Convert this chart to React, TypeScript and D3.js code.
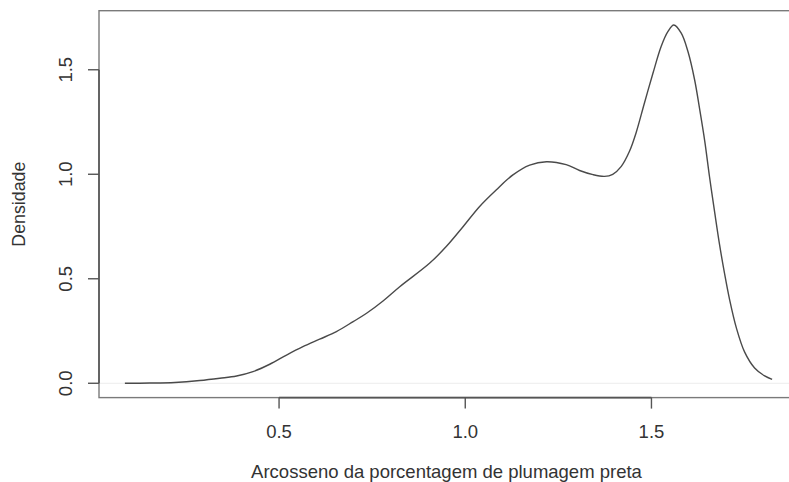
import React from "react";
import * as d3 from "d3";

const densityX = [
  0.086, 0.153, 0.22, 0.287, 0.341, 0.386, 0.43, 0.475, 0.52, 0.564, 0.609,
  0.654, 0.699, 0.735, 0.78, 0.824, 0.904, 0.949, 0.994, 1.038, 1.083, 1.128,
  1.173, 1.218, 1.271, 1.307, 1.343, 1.374, 1.396, 1.419, 1.441, 1.459, 1.481,
  1.504, 1.526, 1.544, 1.56, 1.58, 1.598, 1.616, 1.629, 1.643, 1.656, 1.67,
  1.683, 1.696, 1.71, 1.728, 1.75, 1.777, 1.804, 1.824,
];
const densityY = [
  0.0, 0.001, 0.004, 0.013, 0.024, 0.035, 0.056, 0.091, 0.135, 0.175, 0.211,
  0.247, 0.295, 0.335, 0.395, 0.462, 0.574, 0.654, 0.749, 0.845, 0.925, 0.997,
  1.044, 1.06, 1.046, 1.018, 0.998, 0.99, 1.0, 1.038, 1.11, 1.2, 1.34, 1.483,
  1.611, 1.682, 1.714, 1.675, 1.587, 1.451, 1.316, 1.16, 0.987, 0.815, 0.662,
  0.528, 0.399, 0.265, 0.15, 0.073, 0.035, 0.019,
];
const xTicks = [0.5, 1.0, 1.5];
const xTickLabels = ["0.5", "1.0", "1.5"];
const yTicks = [0, 0.5, 1.0, 1.5];
const yTickLabels = ["0.0", "0.5", "1.0", "1.5"];
const xTitle = "Arcosseno da porcentagem de plumagem preta";
const yTitle = "Densidade";

const W = 789;
const H = 482;
const FONT = "'Liberation Sans', Arial, Helvetica, sans-serif";

export default function App() {
  const [x0, x1] = d3.extent(densityX) as [number, number];
  const yMax = d3.max(densityY) as number;
  const padX = (x1 - x0) * 0.04;
  const padY = yMax * 0.04;

  const left = 99;
  const right = 798;
  const top = 10.7;
  const bottom = 397.6;

  const x = d3.scaleLinear().domain([x0 - padX, x1 + padX]).range([left, right]);
  const y = d3.scaleLinear().domain([0 - padY, yMax + padY]).range([bottom, top]);

  const pts: [number, number][] = densityX.map((v, i) => [v, densityY[i]]);
  const line = d3
    .line<[number, number]>()
    .x((d) => x(d[0]))
    .y((d) => y(d[1]))
    .curve(d3.curveCatmullRom.alpha(0.5));

  const tickLen = 11;

  return (
    <div style={{ position: "absolute", left: 0, top: 0 }}>
      <svg width={W} height={H} style={{ display: "block", background: "#fff" }}>
        <line x1={left} x2={right} y1={y(0)} y2={y(0)} stroke="#ececec" strokeWidth={1} />
        <rect
          x={left}
          y={top}
          width={right - left}
          height={bottom - top}
          fill="none"
          stroke="#7a7a7a"
          strokeWidth={1.4}
        />
        <path d={line(pts) || ""} fill="none" stroke="#4a4a4a" strokeWidth={1.4} />

        <line
          x1={x(xTicks[0])}
          x2={x(xTicks[xTicks.length - 1])}
          y1={bottom}
          y2={bottom}
          stroke="#555"
          strokeWidth={1.6}
        />
        {xTicks.map((t, i) => (
          <g key={"xt" + i}>
            <line x1={x(t)} x2={x(t)} y1={bottom} y2={bottom + tickLen} stroke="#555" strokeWidth={1.4} />
            <text
              x={x(t)}
              y={438}
              textAnchor="middle"
              fontFamily={FONT}
              fontSize={18.5}
              fill="#333"
            >
              {xTickLabels[i]}
            </text>
          </g>
        ))}
        <text
          x={(left + right) / 2 - 2}
          y={478}
          textAnchor="middle"
          fontFamily={FONT}
          fontSize={18.5}
          fill="#333"
        >
          {xTitle}
        </text>

        <line
          x1={left}
          x2={left}
          y1={y(yTicks[0])}
          y2={y(yTicks[yTicks.length - 1])}
          stroke="#555"
          strokeWidth={1.6}
        />
        {yTicks.map((t, i) => (
          <g key={"yt" + i}>
            <line x1={left - tickLen} x2={left} y1={y(t)} y2={y(t)} stroke="#555" strokeWidth={1.4} />
            <text
              transform={`translate(71.7,${y(t)}) rotate(-90)`}
              textAnchor="middle"
              fontFamily={FONT}
              fontSize={18.5}
              fill="#333"
            >
              {yTickLabels[i]}
            </text>
          </g>
        ))}
        <text
          transform={`translate(25,${(top + bottom) / 2}) rotate(-90)`}
          textAnchor="middle"
          fontFamily={FONT}
          fontSize={17.8}
          fill="#333"
        >
          {yTitle}
        </text>
      </svg>
    </div>
  );
}
